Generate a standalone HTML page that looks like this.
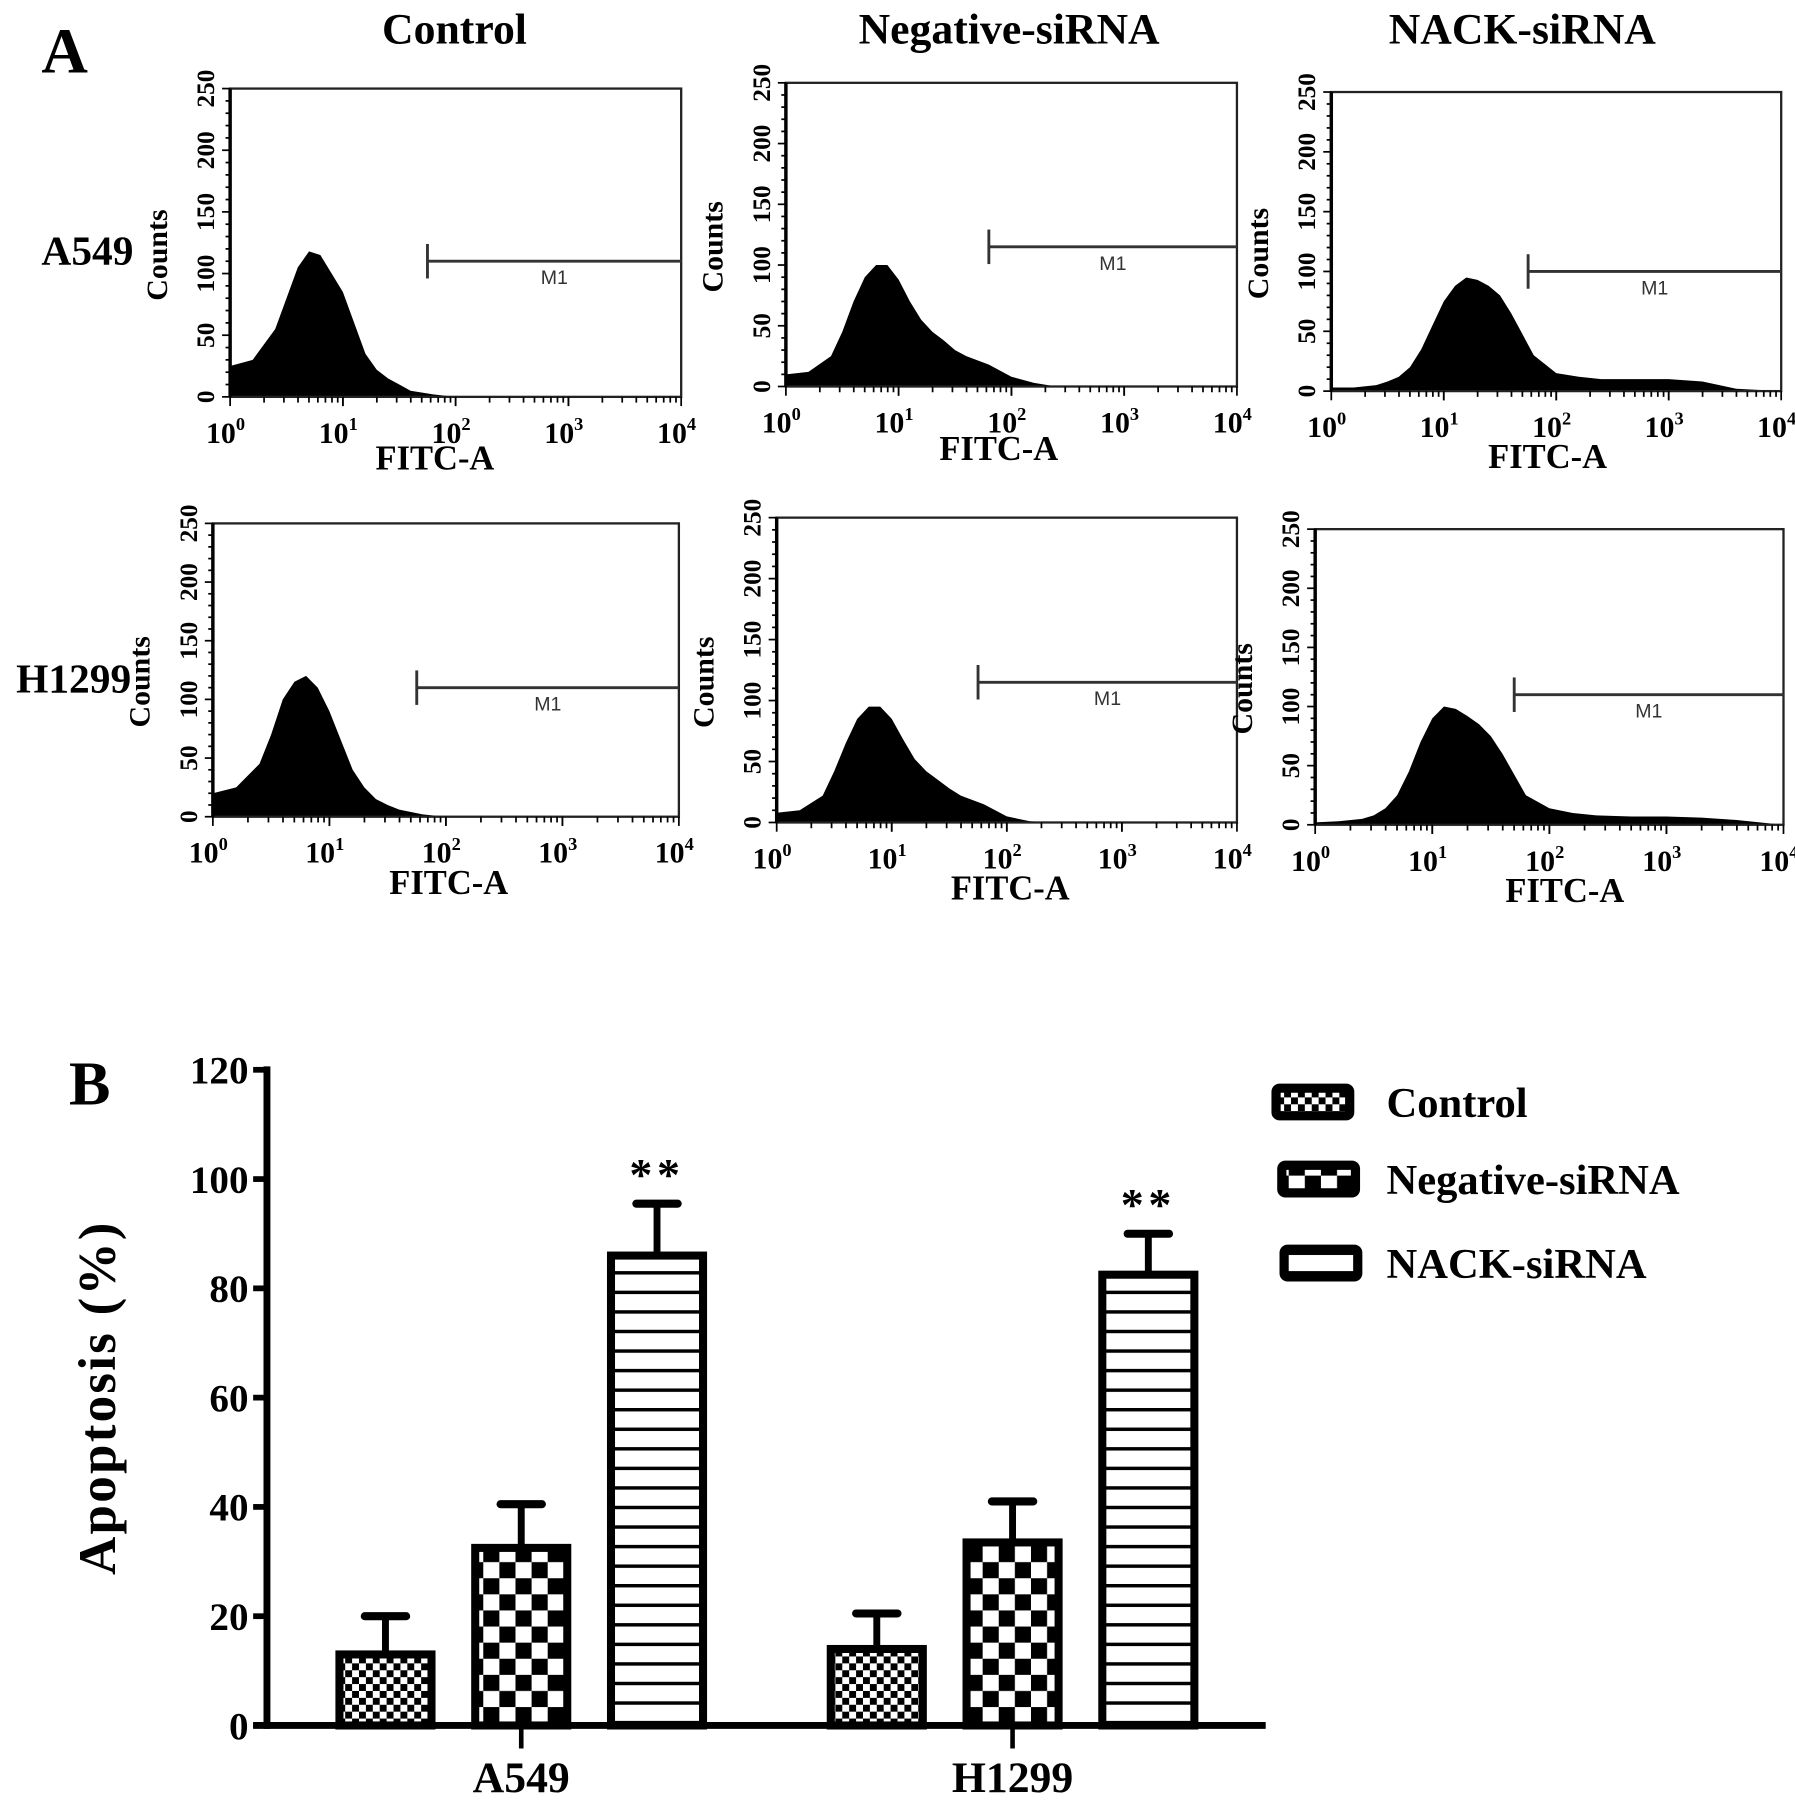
<!DOCTYPE html>
<html><head><meta charset="utf-8"><style>
html,body{margin:0;padding:0;background:#fff}
svg{display:block}
text{font-family:"Liberation Serif",serif;font-weight:bold;fill:#000}
</style></head>
<body>
<svg id="fig" width="1795" height="1806" viewBox="0 0 1560 1570" preserveAspectRatio="none" xmlns="http://www.w3.org/2000/svg">
<defs>
<pattern id="pCtrl" width="12" height="12" patternUnits="userSpaceOnUse"><rect width="12" height="12" fill="#fff"/><rect width="6" height="6" fill="#000"/><rect x="6" y="6" width="6" height="6" fill="#000"/></pattern>
<pattern id="pNeg" width="28" height="28" patternUnits="userSpaceOnUse"><rect width="28" height="28" fill="#fff"/><rect width="14" height="14" fill="#000"/><rect x="14" y="14" width="14" height="14" fill="#000"/></pattern>
<pattern id="pNack" width="10" height="17" patternUnits="userSpaceOnUse"><rect width="10" height="17" fill="#fff"/><rect y="0" width="10" height="3" fill="#000"/></pattern>
</defs>
<g id="partA"></g>
<g id="partB"></g>
</svg>
<script>
// ---------- Panel A data ----------
const histLogs = [0,0.2,0.4,0.5,0.6,0.7,0.8,0.9,1.0,1.1,1.2,1.3,1.4,1.5,1.6,1.8,2.0,2.2,2.4,2.7,3.0,3.3,3.6,4.0];
const histCtrlA549 = [25,30,55,80,105,118,115,100,85,60,35,22,15,10,5,2,0,0,0,0,0,0,0,0];
const histNegA549  = [10,12,25,45,70,90,100,100,88,70,55,45,38,30,25,18,8,3,0,0,0,0,0,0];
const histNackA549 = [3,3,5,8,12,20,35,55,75,88,95,93,88,80,65,30,15,12,10,10,10,8,2,0];
const histCtrlH1299 = [20,25,45,70,100,115,120,110,90,65,40,25,15,10,6,2,0,0,0,0,0,0,0,0];
const histNegH1299  = [8,10,22,42,65,85,95,95,85,68,52,42,35,28,22,15,5,1,0,0,0,0,0,0];
const histNackH1299 = [2,3,5,8,14,25,45,70,90,100,98,92,85,75,60,25,14,10,8,7,7,6,4,0];
const countTicks = [0,50,100,150,200,250];
const decadeTicks = [0,1,2,3,4];
const colTitles = ["Control","Negative-siRNA","NACK-siRNA"];
const rowLabels = ["A549","H1299"];
const markerStart = [1.75,1.8,1.75,1.75,1.75,1.7];
const markerLevel = [110,115,100,110,115,110];

// ---------- Panel B data ----------
const groups = ["A549","H1299"];
const seriesNames = ["Control","Negative-siRNA","NACK-siRNA"];
const controlVals = [13,14];
const negativeVals = [32.5,33.5];
const nackVals = [86,82.5];
const controlErr = [7,6.5];
const negativeErr = [8,7.5];
const nackErr = [9.5,7.5];
const yTicks = [0,20,40,60,80,100,120];
const sigMarks = ["**","**"];

const NS = "http://www.w3.org/2000/svg";
function mk(parent, tag, attrs, txt){
  const e = document.createElementNS(NS, tag);
  for (const k in attrs) e.setAttribute(k, attrs[k]);
  if (txt !== undefined) e.textContent = txt;
  parent.appendChild(e);
  return e;
}
const A = document.getElementById('partA');
const B = document.getElementById('partB');

const boxes = [
  {L:200,R:592,T:77,B:345,fx:378,fy:408},
  {L:683,R:1075,T:72,B:336,fx:868,fy:400},
  {L:1157,R:1548,T:80,B:340,fx:1345,fy:407},
  {L:185,R:590,T:455,B:710,fx:390,fy:777},
  {L:675,R:1075,T:450,B:715,fx:878,fy:782},
  {L:1143,R:1550,T:460,B:717,fx:1360,fy:784}
];
const hists = [histCtrlA549,histNegA549,histNackA549,histCtrlH1299,histNegH1299,histNackH1299];

let t = mk(A,'text',{x:36,y:63,'font-size':56});
t.textContent='A';


const titleX=[395,877,1323];
colTitles.forEach((s,i)=>{
  const e = mk(A,'text',{x:titleX[i],y:38,'font-size':38,'text-anchor':'middle'},s);
  
  
});
const rowY=[230,602], rowX=[76,64];
rowLabels.forEach((s,i)=>{
  const e = mk(A,'text',{x:rowX[i],y:rowY[i],'font-size':36,'text-anchor':'middle'},s);
  
  
});

boxes.forEach((b,pi)=>{
  const g = mk(A,'g',{});
  
  
  const xs = v => b.L + (b.R-b.L)*v/4;
  const ys = c => b.B - (b.B-b.T)*c/250;
  const d = hists[pi];
  let pts = xs(histLogs[0])+','+ys(0)+' ';
  histLogs.forEach((lv,k)=>{ pts += xs(lv)+','+ys(d[k])+' '; });
  pts += xs(4)+','+ys(0);
  const poly = mk(g,'polygon',{points:pts,fill:'#000'});
  
  
  const r = mk(g,'rect',{x:b.L,y:b.T,width:b.R-b.L,height:b.B-b.T,fill:'none',stroke:'#222','stroke-width':2});
  
  
  mk(g,'line',{x1:b.L,y1:b.T,x2:b.L,y2:b.B,stroke:'#000','stroke-width':3});
  for(let c=0;c<=250;c+=10){
    mk(g,'line',{x1:b.L-(c%50===0?7:4),y1:ys(c),x2:b.L,y2:ys(c),stroke:'#000','stroke-width':1.5});
  }
  countTicks.forEach(c=>{
    const e = mk(g,'text',{x:0,y:0,'font-size':22,'text-anchor':'middle',transform:`translate(${b.L-14},${ys(c)}) rotate(-90)`},String(c));
    
    
  });
  const cl = mk(g,'text',{x:0,y:0,'font-size':26,'text-anchor':'middle',transform:`translate(${b.L-55},${ys(115)}) rotate(-90)`},'Counts');
  
  
  for(let dec=0;dec<4;dec++){
    for(let m=1;m<=10;m++){
      const v = dec+Math.log10(m);
      mk(g,'line',{x1:xs(v),y1:b.B,x2:xs(v),y2:b.B+(m===1||m===10?8:5),stroke:'#000','stroke-width':1.5});
    }
  }
  decadeTicks.forEach(v=>{
    const e = mk(g,'text',{x:xs(v)-4,y:b.B+40,'font-size':26,'text-anchor':'middle'});
    e.textContent='10';
    mk(e,'tspan',{dy:-11,'font-size':16},String(v));
    
    
  });
  const fl = mk(g,'text',{x:b.fx,y:b.fy,'font-size':30,'text-anchor':'middle'},'FITC-A');
  
  
  const mx = xs(markerStart[pi]), my = ys(markerLevel[pi]);
  const gate = mk(g,'g',{});
  
  
  mk(gate,'line',{x1:mx,y1:my,x2:b.R,y2:my,stroke:'#333','stroke-width':2.5});
  mk(gate,'line',{x1:mx,y1:my-15,x2:mx,y2:my+15,stroke:'#333','stroke-width':2.5});
  mk(gate,'text',{x:(mx+b.R)/2,y:my+20,'font-size':17,'text-anchor':'middle','style':'font-family:"Liberation Sans",sans-serif;font-weight:normal;fill:#333'},'M1');
});

// ---------- Panel B ----------
const bx0=232, bxEnd=1100, by0=1500, by120=930;
const yScale = v => by0 - (by0-by120)*v/120;
const groupCenter=[453,880];
const barOffsets=[-118,0,118], barW=80;
const xScale = (gi,si) => groupCenter[gi]+barOffsets[si];
const patterns=['url(#pCtrl)','url(#pNeg)','url(#pNack)'];
const vals=[controlVals,negativeVals,nackVals];
const errs=[controlErr,negativeErr,nackErr];

let bl = mk(B,'text',{x:60,y:960,'font-size':54},'B');



groups.forEach((gname,gi)=>{
  seriesNames.forEach((sn,si)=>{
    const v = vals[si][gi], e = errs[si][gi];
    const cx = xScale(gi,si);
    const eb = mk(B,'g',{});
    
    
    mk(eb,'line',{x1:cx,y1:yScale(v),x2:cx,y2:yScale(v+e),stroke:'#000','stroke-width':6});
    mk(eb,'line',{x1:cx-18,y1:yScale(v+e),x2:cx+18,y2:yScale(v+e),stroke:'#000','stroke-width':7,'stroke-linecap':'round'});
    const r = mk(B,'rect',{x:cx-barW/2,y:yScale(v),width:barW,height:yScale(0)-yScale(v),fill:patterns[si],stroke:'#000','stroke-width':7});
    
    
  });
  const s = mk(B,'text',{x:xScale(gi,2),y:yScale(nackVals[gi]+nackErr[gi])-12,'font-size':40,'text-anchor':'middle','style':'letter-spacing:4px'},sigMarks[gi]);
  
  
  mk(B,'line',{x1:groupCenter[gi],y1:by0,x2:groupCenter[gi],y2:by0+20,stroke:'#000','stroke-width':4});
  const gl = mk(B,'text',{x:groupCenter[gi],y:1558,'font-size':38,'text-anchor':'middle'},gname);
  
  
});
const ya = mk(B,'line',{x1:bx0,y1:by120-3,x2:bx0,y2:by0+3,stroke:'#000','stroke-width':6});


const xa = mk(B,'line',{x1:bx0-12,y1:by0,x2:bxEnd,y2:by0,stroke:'#000','stroke-width':6});


yTicks.forEach(v=>{
  mk(B,'line',{x1:bx0-12,y1:yScale(v),x2:bx0,y2:yScale(v),stroke:'#000','stroke-width':5});
  const e = mk(B,'text',{x:bx0-16,y:yScale(v)+12,'font-size':34,'text-anchor':'end'},String(v));
  
  
});
const yt = mk(B,'text',{x:0,y:0,'font-size':46,'text-anchor':'middle',transform:'translate(100,1215) rotate(-90)','style':'letter-spacing:2px'},'Apoptosis (%)');


const legY=[958,1025,1098], legX=[1105,1110,1112];
seriesNames.forEach((sn,i)=>{
  const g = mk(B,'g',{});
  
  
  mk(g,'rect',{x:legX[i]+4,y:legY[i]-12,width:64,height:24,rx:3,fill:patterns[i],stroke:'#000','stroke-width':8});
  mk(g,'text',{x:1205,y:legY[i]+13,'font-size':37},sn);
});
</script>
</body></html>
